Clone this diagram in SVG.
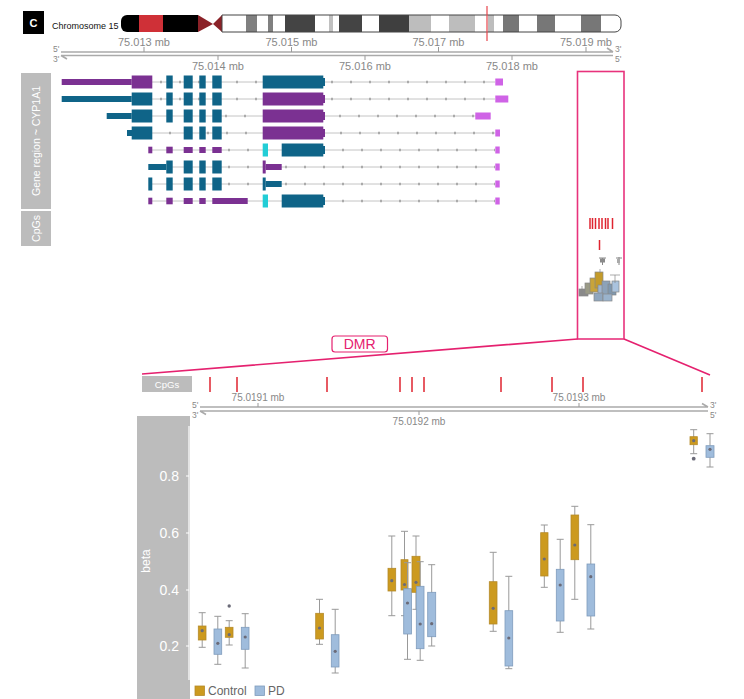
<svg xmlns="http://www.w3.org/2000/svg" width="744" height="699" viewBox="0 0 744 699">
<style>
text{font-family:"Liberation Sans",Arial,sans-serif}
.ax{font-size:11px;fill:#888}
.sm{font-size:8.5px;fill:#888}
.pan{fill:#bcbcbc}
.wt{fill:#fff;font-size:10.500px;text-anchor:middle}
.tk{stroke:#999;stroke-width:1;fill:none}
.axl{stroke:#aaa;stroke-width:1.6;fill:none}
.p{fill:#7b3192}.t{fill:#0f6488}.m{fill:#cf63e6}.c{fill:#22cdd6}
.in{stroke:#c4c4c4;stroke-width:1;fill:none}
.dt{stroke:#aaa;stroke-width:2.500;stroke-dasharray:2 17;fill:none}
.pk{stroke:#e8327c;stroke-width:1.6;fill:none}
.pl{stroke:#e5216f;stroke-width:1.6;fill:none}
.cg{stroke:#df2430;stroke-width:1.5}
.w{stroke:#999;stroke-width:1;fill:none}
.g{fill:#cc9a1f;stroke:#b58a2a;stroke-width:.8}
.b{fill:#9fbcdc;stroke:#7f9cbc;stroke-width:.8}
.dot{fill:#6b6b78}
.yl{fill:#fff;font-size:14px;text-anchor:end}
</style>

<g id="panel-label"><rect x="23" y="11" width="21" height="23" fill="#000"/><text x="33.5" y="27" font-size="11" font-weight="bold" fill="#fff" text-anchor="middle">C</text></g>

<g id="ideogram">
<text x="52" y="29" font-size="9" fill="#111">Chromosome 15</text>
<path d="M198 15H127a6 6 0 0 0-6 6v5a6 6 0 0 0 6 6H198z" fill="#000"/>
<rect x="139" y="15" width="24" height="17" fill="#cf3037"/>
<path d="M198 15L213 24L198 32z" fill="#8b2228"/>
<path d="M222 15L213 24L222 32z" fill="#8b2228"/>
<path d="M222 15H615a6 6 0 0 1 6 6v5a6 6 0 0 1-6 6H222z" fill="#fff"/>
<g>
<rect x="246" y="15" width="11" height="17" fill="#808080"/>
<rect x="268" y="15" width="5" height="17" fill="#808080"/>
<rect x="285" y="15" width="30" height="17" fill="#444"/>
<rect x="329" y="15" width="4" height="17" fill="#c0c0c0"/>
<rect x="339" y="15" width="23" height="17" fill="#444"/>
<rect x="379" y="15" width="30" height="17" fill="#3f3f3f"/>
<rect x="409" y="15" width="22" height="17" fill="#bdbdbd"/>
<rect x="449" y="15" width="26" height="17" fill="#bdbdbd"/>
<rect x="488" y="15" width="6" height="17" fill="#bdbdbd"/>
<rect x="503" y="15" width="16" height="17" fill="#777"/>
<rect x="537" y="15" width="18" height="17" fill="#777"/>
<rect x="581" y="15" width="20" height="17" fill="#777"/>
</g>
<path d="M222 15H615a6 6 0 0 1 6 6v5a6 6 0 0 1-6 6H222z" fill="none" stroke="#444" stroke-width="1"/>
<line x1="487" y1="6" x2="487" y2="41" stroke="#e8434b" stroke-width="1.2"/>
</g>

<g id="top-axis">
<path class="axl" d="M61 52H613M613 52L607 48M61 55.5H613M61 55.5L67 59"/>
<path class="tk" d="M144 47V52M291.500 47V52M438.500 47V52M586 47V52M218 55.500V60M365 55.500V60M512 55.500V60"/>
<text class="ax" x="144" y="46" text-anchor="middle">75.013 mb</text>
<text class="ax" x="291.500" y="46" text-anchor="middle">75.015 mb</text>
<text class="ax" x="438.500" y="46" text-anchor="middle">75.017 mb</text>
<text class="ax" x="586" y="46" text-anchor="middle">75.019 mb</text>
<text class="ax" x="218" y="70" text-anchor="middle">75.014 mb</text>
<text class="ax" x="365" y="70" text-anchor="middle">75.016 mb</text>
<text class="ax" x="512" y="70" text-anchor="middle">75.018 mb</text>
<text class="sm" x="53" y="52">5'</text><text class="sm" x="53" y="62">3'</text>
<text class="sm" x="615" y="52">3'</text><text class="sm" x="615" y="62">5'</text>
</g>

<g id="track-labels">
<rect class="pan" x="21" y="73" width="30" height="136"/>
<text class="wt" transform="translate(40 141) rotate(-90)">Gene region ~ CYP1A1</text>
<rect class="pan" x="21" y="211" width="30" height="35"/>
<text class="wt" transform="translate(40 228.500) rotate(-90)">CpGs</text>
</g>

<g id="transcript-1">
<path class="in" d="M152 82H495"/><path class="dt" d="M160 82H495"/>
<rect class="p" x="61.700" y="79" width="70" height="6"/><rect class="p" x="131.700" y="75.500" width="20.600" height="13"/>
<rect class="t" x="166.300" y="75.500" width="6.400" height="13"/><rect class="t" x="183.700" y="75.500" width="9" height="13"/><rect class="t" x="199.300" y="75.500" width="6.400" height="13"/><rect class="t" x="212.300" y="75.500" width="9.400" height="13"/>
<path class="t" d="M262.700 75.500H323.300V78H325V86H323.300V88.500H262.700z"/>
<rect class="m" x="495.300" y="78.500" width="7.700" height="7"/>
</g>
<g id="transcript-2">
<path class="in" d="M152 99H495"/><path class="dt" d="M160 99H495"/>
<rect class="t" x="61.700" y="96" width="70" height="6"/><rect class="t" x="131.700" y="92.500" width="20.600" height="13"/>
<rect class="t" x="166.300" y="92.500" width="6.400" height="13"/><rect class="t" x="183.700" y="92.500" width="9" height="13"/><rect class="t" x="199.300" y="92.500" width="6.400" height="13"/><rect class="t" x="212.300" y="92.500" width="9.400" height="13"/>
<path class="p" d="M262.700 92.500H323.300V95H325V103H323.300V105.500H262.700z"/>
<rect class="m" x="495.300" y="95.500" width="13" height="7"/>
</g>
<g id="transcript-3">
<path class="in" d="M152 116H476"/><path class="dt" d="M225 116H476"/>
<rect class="t" x="106.700" y="113" width="25" height="6"/><rect class="t" x="131.700" y="109.500" width="20.600" height="13"/>
<rect class="t" x="166.300" y="109.500" width="6.400" height="13"/><rect class="t" x="183.700" y="109.500" width="9" height="13"/><rect class="t" x="199.300" y="109.500" width="6.400" height="13"/><rect class="t" x="212.300" y="109.500" width="9.400" height="13"/>
<path class="p" d="M262.700 109.500H323.300V112H325V120H323.300V122.500H262.700z"/>
<rect class="m" x="475.300" y="112.500" width="15.400" height="7"/>
</g>
<g id="transcript-4">
<path class="in" d="M152 133H495"/><path class="dt" d="M169 133H495"/>
<rect class="t" x="127" y="130" width="5" height="6"/><rect class="t" x="131.700" y="126.500" width="20.600" height="13"/>
<rect class="t" x="183.700" y="126.500" width="9" height="13"/><rect class="t" x="199.300" y="126.500" width="6.400" height="13"/><rect class="t" x="212.300" y="126.500" width="9.400" height="13"/>
<path class="p" d="M262.700 126.500H323.300V129H325V137H323.300V139.500H262.700z"/>
<rect class="m" x="495.300" y="129.500" width="4.700" height="7"/>
</g>
<g id="transcript-5">
<path class="in" d="M152 150H495"/><path class="dt" d="M228 150H495"/>
<rect class="p" x="148.300" y="146.700" width="4" height="6.600"/><rect class="p" x="166.300" y="146.700" width="6.400" height="6.600"/><rect class="p" x="183.700" y="147" width="9" height="6"/><rect class="p" x="199.300" y="147" width="6.400" height="6"/><rect class="p" x="212.300" y="147" width="9.400" height="6"/>
<rect class="c" x="262.700" y="143.500" width="5.300" height="13"/>
<path class="t" d="M281.700 143.500H323.300V146H325V154H323.300V156.500H281.700z"/>
<rect class="m" x="495.300" y="146.500" width="4.400" height="7"/>
</g>
<g id="transcript-6">
<path class="in" d="M172 167H495"/><path class="dt" d="M228 167H495"/>
<rect class="t" x="148.300" y="164" width="18" height="6"/><rect class="t" x="166.300" y="160.500" width="6.400" height="13"/><rect class="t" x="183.700" y="160.500" width="9" height="13"/><rect class="t" x="199.300" y="160.500" width="6.400" height="13"/><rect class="t" x="212.300" y="160.500" width="9.400" height="13"/>
<rect class="p" x="262.700" y="160.500" width="3" height="13"/><rect class="p" x="265.700" y="164" width="16" height="6"/>
<rect class="m" x="495.300" y="163.500" width="4.400" height="7"/>
</g>
<g id="transcript-7">
<path class="in" d="M152 184H495"/><path class="dt" d="M228 184H495"/>
<rect class="t" x="148.300" y="177.500" width="4" height="13"/><rect class="t" x="166.300" y="177.500" width="6.400" height="13"/><rect class="t" x="183.700" y="177.500" width="9" height="13"/><rect class="t" x="199.300" y="177.500" width="6.400" height="13"/><rect class="t" x="212.300" y="177.500" width="9.400" height="13"/>
<rect class="t" x="262.700" y="177.500" width="3" height="13"/><rect class="t" x="265.700" y="181" width="16" height="6"/>
<rect class="m" x="495.300" y="180.500" width="4.400" height="7"/>
</g>
<g id="transcript-8">
<path class="in" d="M152 201H495"/><path class="dt" d="M342 201H495"/>
<rect class="p" x="148.300" y="197.700" width="4" height="6.600"/><rect class="p" x="166.300" y="197.700" width="6.400" height="6.600"/><rect class="p" x="183.700" y="198" width="9" height="6"/><rect class="p" x="199.300" y="198" width="6.400" height="6"/><rect class="p" x="212.300" y="198" width="35.400" height="6"/>
<rect class="c" x="262.700" y="194.500" width="5.300" height="13"/>
<path class="t" d="M281.700 194.500H323.300V197H325V205H323.300V207.500H281.700z"/>
<rect class="m" x="495.300" y="197.500" width="4.400" height="7"/>
</g>

<g id="mini-cpgs">
<path class="cg" d="M590 218V229M592.500 218V229M595.500 218V229M599 218V229M602 218V229M605.500 218V229M608 218V229M612.500 218V229M599.500 240V250"/>
<path d="M599 258H606M602.500 258V265M616 258H622M619 257V265" stroke="#888" stroke-width="1" fill="none"/>
<rect x="600" y="258.500" width="5" height="4" fill="#8a8a8a"/>
<rect x="617" y="259" width="3" height="4" fill="#aaa"/>
<g stroke="#888" stroke-width=".7">
<rect x="579" y="289" width="9" height="7" fill="#8a8a8a"/>
<rect x="585" y="283" width="8" height="11" fill="#9a9a86"/>
<rect x="590" y="278" width="8" height="14" fill="#c8a43a"/>
<rect x="595" y="272" width="8" height="16" fill="#c49b2a"/>
<rect x="598" y="285" width="8" height="12" fill="#9fb5cf"/>
<rect x="602" y="281" width="8" height="17" fill="#8ca2b8"/>
<rect x="608" y="284" width="8" height="11" fill="#7f98b0"/>
<rect x="612" y="281" width="7" height="11" fill="#aac3de"/>
<rect x="594" y="293" width="9" height="8" fill="#8fa6be"/>
<rect x="603" y="294" width="9" height="7" fill="#9ab3cc"/>
<path d="M610 275H620M615 275V283M600 269V273M582 286V296" fill="none"/>
</g>
</g>

<g id="dmr-callout">
<rect class="pk" x="577.500" y="71.500" width="46.500" height="267.500"/>
<path class="pl" d="M577.500 339L142 374M624 339L710 375"/>
<rect x="332" y="336" width="55.500" height="16" rx="3" fill="#fff" stroke="#e5216f" stroke-width="1.200"/>
<text x="359.700" y="349" font-size="14" fill="#e5216f" text-anchor="middle">DMR</text>
</g>

<g id="zoom-cpgs">
<rect class="pan" x="142" y="376" width="50" height="16"/>
<text class="wt" x="167" y="388" style="font-size:9.500px">CpGs</text>
<path class="cg" d="M210 377V392M237 377V392M327 377V392M400 377V392M412 377V392M424 377V392M501 377V392M552 377V392M583 377V392M702 377V392"/>
</g>

<g id="zoom-axis">
<path class="axl" d="M200 407H708M708 407L702 403.500M200 411H708M200 411L206 414.500"/>
<path class="tk" d="M258 403V407M579 403V407M419 411V415"/>
<text class="ax" x="258" y="401" text-anchor="middle" style="font-size:10px">75.0191 mb</text>
<text class="ax" x="579" y="401" text-anchor="middle" style="font-size:10px">75.0193 mb</text>
<text class="ax" x="419" y="425" text-anchor="middle" style="font-size:10px">75.0192 mb</text>
<text class="sm" x="192" y="408">5'</text><text class="sm" x="192" y="418">3'</text>
<text class="sm" x="710" y="408">3'</text><text class="sm" x="710" y="418">5'</text>
</g>

<g id="y-axis">
<rect class="pan" x="137" y="416" width="53" height="283"/>
<path d="M189 426V680M186 476H189M186 533H189M186 590H189M186 646H189" stroke="#fff" stroke-width="1.200" fill="none"/>
<text class="yl" x="179" y="481">0.8</text>
<text class="yl" x="179" y="538">0.6</text>
<text class="yl" x="179" y="595">0.4</text>
<text class="yl" x="179" y="651">0.2</text>
<text fill="#fff" font-size="12" text-anchor="middle" transform="translate(150 561) rotate(-90)">beta</text>
</g>

<g id="boxplots">
<g id="box-1"><path class="w" d="M202.200 612.700V647.300M198.700 612.700H205.700M198.700 647.300H205.700"/><rect class="g" x="198.300" y="626" width="7.700" height="14"/><circle class="dot" cx="202.200" cy="630.700" r="1.600"/></g>
<g id="box-2"><path class="w" d="M217.800 616.300V664.300M214.300 616.300H221.300M214.300 664.300H221.300"/><rect class="b" x="214" y="629" width="7.700" height="25.300"/><circle class="dot" cx="217.800" cy="643.300" r="1.600"/></g>
<g id="box-3"><path class="w" d="M229.200 620.700V645M225.700 620.700H232.700M225.700 645H232.700"/><rect class="g" x="225.300" y="627.300" width="7.700" height="10"/><circle class="dot" cx="229.200" cy="634.700" r="1.600"/><circle class="dot" cx="229.200" cy="606" r="1.700"/></g>
<g id="box-4"><path class="w" d="M245.200 613.700V668M241.700 613.700H248.700M241.700 668H248.700"/><rect class="b" x="241.300" y="627.300" width="7.700" height="22"/><circle class="dot" cx="245.200" cy="637" r="1.600"/></g>
<g id="box-5"><path class="w" d="M319.500 599.300V644.300M316 599.300H323M316 644.300H323"/><rect class="g" x="315.700" y="613.300" width="7.700" height="25.700"/><circle class="dot" cx="319.500" cy="628" r="1.600"/></g>
<g id="box-6"><path class="w" d="M335.200 609.300V673M331.700 609.300H338.700M331.700 673H338.700"/><rect class="b" x="331.300" y="634.700" width="7.700" height="32.300"/><circle class="dot" cx="335.200" cy="651.300" r="1.600"/></g>
<g id="box-7"><path class="w" d="M391.800 536V615.700M388.300 536H395.300M388.300 615.700H395.300"/><rect class="g" x="388" y="568.300" width="7.700" height="22.700"/><circle class="dot" cx="391.800" cy="580.700" r="1.600"/></g>
<g id="box-8"><path class="w" d="M404.500 531.300V615.700M401 531.300H408M401 615.700H408"/><rect class="g" x="401" y="559.700" width="7" height="30.300"/><circle class="dot" cx="404.500" cy="584.500" r="1.600"/></g>
<g id="box-9"><path class="w" d="M407.500 562.700V659.300M404 562.700H411M404 659.300H411"/><rect class="b" x="403.700" y="588.700" width="7.700" height="45.300"/><circle class="dot" cx="407.500" cy="603" r="1.600"/></g>
<g id="box-10"><path class="w" d="M416 536V609.300M412.500 536H419.500M412.500 609.300H419.500"/><rect class="g" x="412" y="556.300" width="8" height="36"/><circle class="dot" cx="416" cy="582.300" r="1.600"/></g>
<g id="box-11"><path class="w" d="M420.200 561.700V660.300M416.700 561.700H423.700M416.700 660.300H423.700"/><rect class="b" x="416.300" y="586.300" width="7.700" height="62.400"/><circle class="dot" cx="420.200" cy="624" r="1.600"/></g>
<g id="box-12"><path class="w" d="M431.700 564.700V646M428.200 564.700H435.200M428.200 646H435.200"/><rect class="b" x="427.700" y="592.300" width="8" height="44.400"/><circle class="dot" cx="431.700" cy="623.700" r="1.600"/></g>
<g id="box-13"><path class="w" d="M493.200 552.300V631.300M489.700 552.300H496.700M489.700 631.300H496.700"/><rect class="g" x="489.300" y="581.700" width="7.700" height="42.300"/><circle class="dot" cx="493.200" cy="608.300" r="1.600"/></g>
<g id="box-14"><path class="w" d="M508.800 576.300V668.700M505.300 576.300H512.300M505.300 668.700H512.300"/><rect class="b" x="505" y="610.700" width="7.700" height="55.300"/><circle class="dot" cx="508.800" cy="638" r="1.600"/></g>
<g id="box-15"><path class="w" d="M544.300 525V587.300M540.800 525H547.800M540.800 587.300H547.800"/><rect class="g" x="540.700" y="532.700" width="7.300" height="43.300"/><circle class="dot" cx="544.300" cy="559" r="1.600"/></g>
<g id="box-16"><path class="w" d="M560.200 539.300V632.300M556.700 539.300H563.700M556.700 632.300H563.700"/><rect class="b" x="556.300" y="569.300" width="7.700" height="51.700"/><circle class="dot" cx="560.200" cy="585" r="1.600"/></g>
<g id="box-17"><path class="w" d="M574.800 506.300V599.300M571.300 506.300H578.300M571.300 599.300H578.300"/><rect class="g" x="571" y="515" width="7.700" height="44.700"/><circle class="dot" cx="574.800" cy="545" r="1.600"/></g>
<g id="box-18"><path class="w" d="M590.800 524.700V629M587.300 524.700H594.300M587.300 629H594.300"/><rect class="b" x="587" y="564" width="7.700" height="52"/><circle class="dot" cx="590.800" cy="576.700" r="1.600"/></g>
<g id="box-19"><path class="w" d="M693.700 429.700V453.700M690.200 429.700H697.200M690.200 453.700H697.200"/><rect class="g" x="690" y="436.700" width="7.300" height="8"/><circle class="dot" cx="693.700" cy="440.700" r="1.600"/><circle class="dot" cx="693.700" cy="458.700" r="1.900"/></g>
<g id="box-20"><path class="w" d="M710 433.700V467M706.500 433.700H713.500M706.500 467H713.500"/><rect class="b" x="706" y="445.700" width="8" height="11.600"/><circle class="dot" cx="710" cy="449.300" r="1.600"/></g>
</g>

<g id="legend">
<rect class="g" x="195" y="686" width="9.500" height="9.500"/>
<text x="208" y="695" font-size="12" fill="#666">Control</text>
<rect class="b" x="255" y="686" width="9.500" height="9.500"/>
<text x="268" y="695" font-size="12" fill="#666">PD</text>
</g>
</svg>
